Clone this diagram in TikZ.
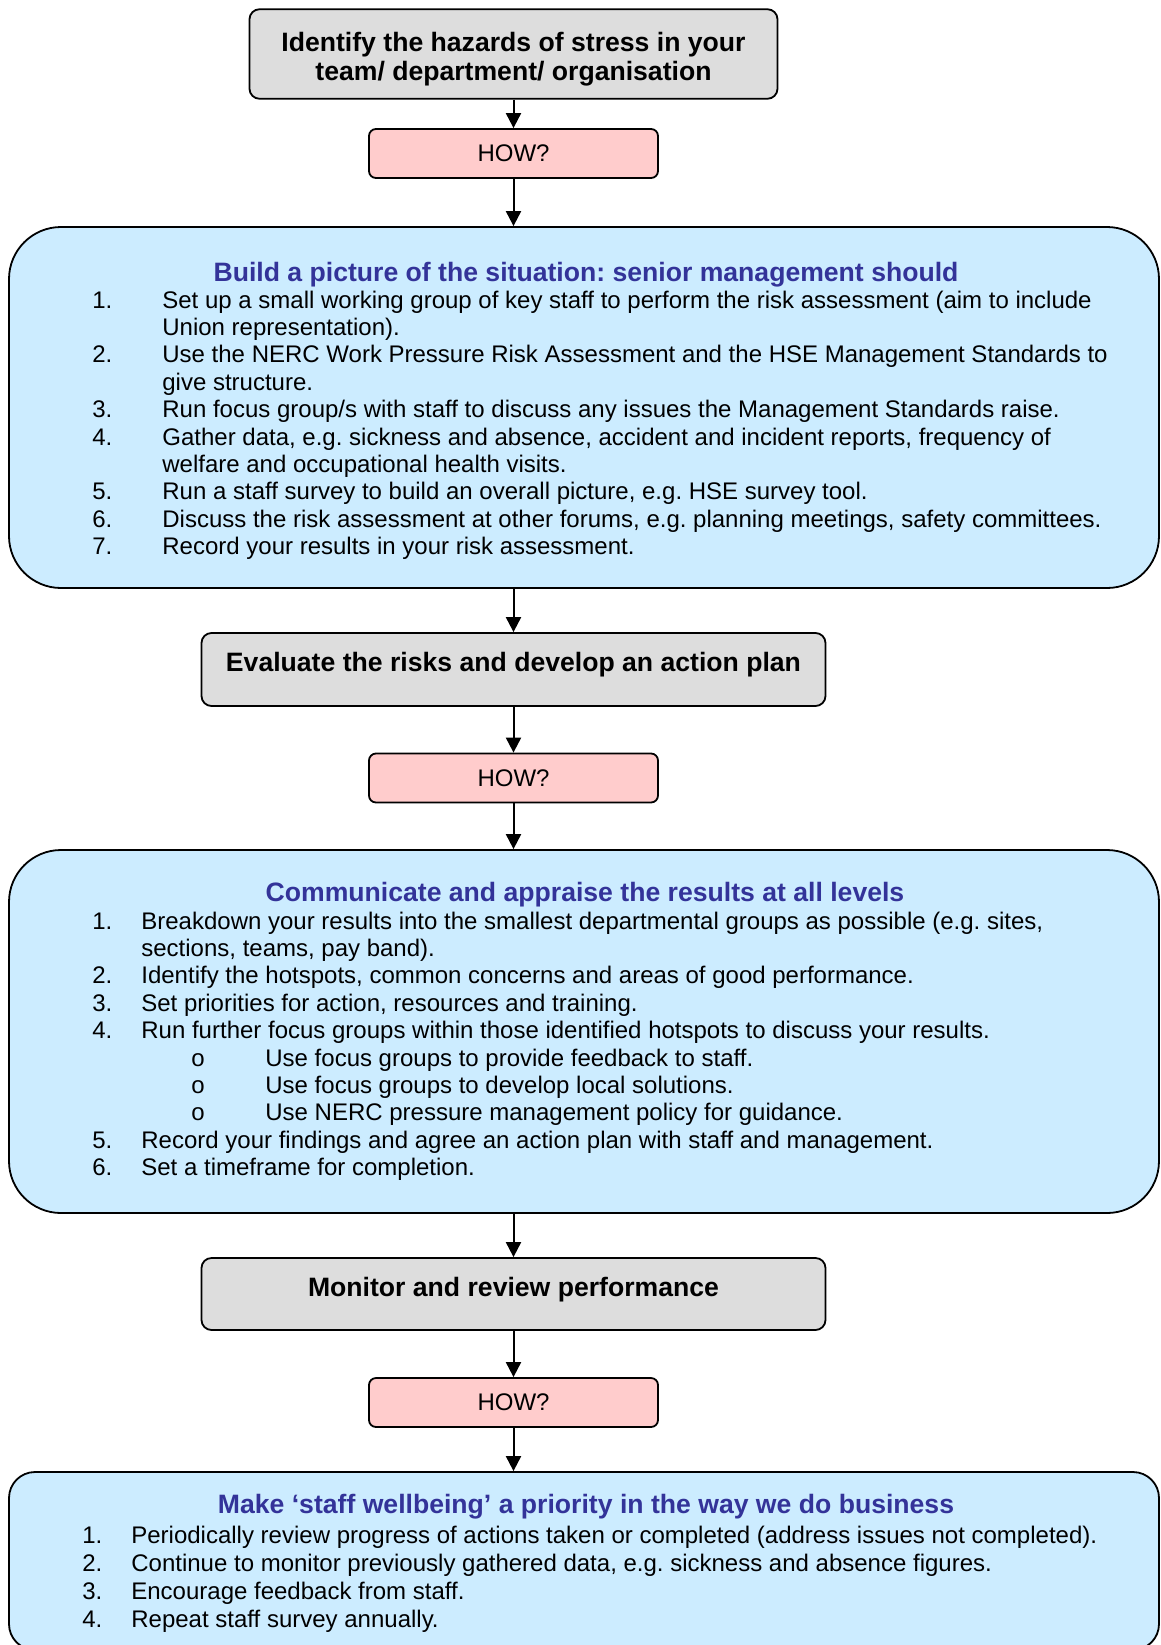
\documentclass[tikz,border=0pt]{standalone}
\usepackage{fontspec}
\setmainfont{Liberation Sans}
\usetikzlibrary{arrows.meta}

\definecolor{stagegrey}{HTML}{DDDDDD}
\definecolor{howpink}{HTML}{FFCCCC}
\definecolor{detailblue}{HTML}{CCECFF}
\definecolor{titleblue}{HTML}{333399}

\newcommand{\subpoint}[1]{\hspace*{25pt}\makebox[37pt][l]{o}#1}
\frenchspacing

\begin{document}
\begin{tikzpicture}[x=0.5pt,y=-0.5pt]

	\tikzstyle stage box=[draw, line width=0.9pt, fill=stagegrey, rounded corners=5pt, font=\fontsize{13.3}{14.5}\selectfont\bfseries, align=center, inner sep=0pt];
	\tikzstyle how box=[draw, line width=0.9pt, fill=howpink, rounded corners=3.5pt, minimum width=144.5pt, minimum height=24.5pt, font=\fontsize{12}{13.7}\selectfont, inner sep=0pt];
	\tikzstyle detail box=[draw, line width=0.9pt, fill=detailblue, inner sep=0pt];
	\tikzstyle detail title=[font=\fontsize{13.3}{14.5}\selectfont\bfseries, text=titleblue, inner sep=0pt, anchor=base];
	\tikzstyle detail list=[font=\fontsize{12}{13.7}\selectfont, inner sep=0pt, anchor=base west];
	\tikzstyle flow lines=[line width=1pt, -{Triangle[length=7.5pt,width=7.5pt]}];

	\useasboundingbox (0,0) rectangle (1161,1645);

	% grey stages and HOW? boxes
	\node[stage box, minimum width=264pt, minimum height=44.75pt] (hazards) at (513.5,54) {\rule{0pt}{15pt}Identify the hazards of stress in your\\team/ department/ organisation};
	\node[how box] (how1) at (513.5,153.5) {HOW?};
	\node[stage box, minimum width=312pt, minimum height=36.5pt, text height=9.5pt, text depth=7.5pt] (evaluate) at (513.5,669.5) {Evaluate the risks and develop an action plan};
	\node[how box] (how2) at (513.5,778) {HOW?};
	\node[stage box, minimum width=312pt, minimum height=36pt, text height=9.5pt, text depth=7.5pt] (monitor) at (513.5,1294) {Monitor and review performance};
	\node[how box] (how3) at (513.5,1402.5) {HOW?};

	% blue boxes
	\node[detail box, rounded corners=26pt, minimum width=575pt, minimum height=180.5pt] (picture) at (584,407.5) {};
	\node[detail box, rounded corners=26pt, minimum width=575pt, minimum height=181.5pt] (communicate) at (584,1031.5) {};
	\node[detail box, rounded corners=13pt, minimum width=575pt, minimum height=89pt] (wellbeing) at (584,1561) {};

	\node[detail title] (picture title) at (586,281) {Build a picture of the situation: senior management should};
	\node[detail list] (picture list) at (92,308) {\begin{tabular}[t]{@{}p{35pt}@{}l@{}}
		1. & Set up a small working group of key staff to perform the risk assessment (aim to include\\
		   & Union representation).\\
		2. & Use the NERC Work Pressure Risk Assessment and the HSE Management Standards to\\
		   & give structure.\\
		3. & Run focus group/s with staff to discuss any issues the Management Standards raise.\\
		4. & Gather data, e.g. sickness and absence, accident and incident reports, frequency of\\
		   & welfare and occupational health visits.\\
		5. & Run a staff survey to build an overall picture, e.g. HSE survey tool.\\
		6. & Discuss the risk assessment at other forums, e.g. planning meetings, safety committees.\\
		7. & Record your results in your risk assessment.
	\end{tabular}};

	\node[detail title] (communicate title) at (585,901) {Communicate and appraise the results at all levels};
	\node[detail list] (communicate list) at (92,929) {\begin{tabular}[t]{@{}p{24.5pt}@{}l@{}}
		1. & Breakdown your results into the smallest departmental groups as possible (e.g. sites,\\
		   & sections, teams, pay band).\\
		2. & Identify the hotspots, common concerns and areas of good performance.\\
		3. & Set priorities for action, resources and training.\\
		4. & Run further focus groups within those identified hotspots to discuss your results.\\
		   & \subpoint{Use focus groups to provide feedback to staff.}\\
		   & \subpoint{Use focus groups to develop local solutions.}\\
		   & \subpoint{Use NERC pressure management policy for guidance.}\\
		5. & Record your findings and agree an action plan with staff and management.\\
		6. & Set a timeframe for completion.
	\end{tabular}};

	\node[detail title] (wellbeing title) at (586,1513) {Make ‘staff wellbeing’ a priority in the way we do business};
	\node[detail list, font=\fontsize{12}{14}\selectfont] (wellbeing list) at (82,1543) {\begin{tabular}[t]{@{}p{24.5pt}@{}l@{}}
		1. & Periodically review progress of actions taken or completed (address issues not completed).\\
		2. & Continue to monitor previously gathered data, e.g. sickness and absence figures.\\
		3. & Encourage feedback from staff.\\
		4. & Repeat staff survey annually.
	\end{tabular}};

	% connectors
	\draw[flow lines] (hazards) -- (how1);
	\draw[flow lines] (how1.south) -- (how1.south |- picture.north);
	\draw[flow lines] (evaluate.north |- picture.south) -- (evaluate.north);
	\draw[flow lines] (evaluate) -- (how2);
	\draw[flow lines] (how2.south) -- (how2.south |- communicate.north);
	\draw[flow lines] (monitor.north |- communicate.south) -- (monitor.north);
	\draw[flow lines] (monitor) -- (how3);
	\draw[flow lines] (how3.south) -- (how3.south |- wellbeing.north);

\end{tikzpicture}
\end{document}
